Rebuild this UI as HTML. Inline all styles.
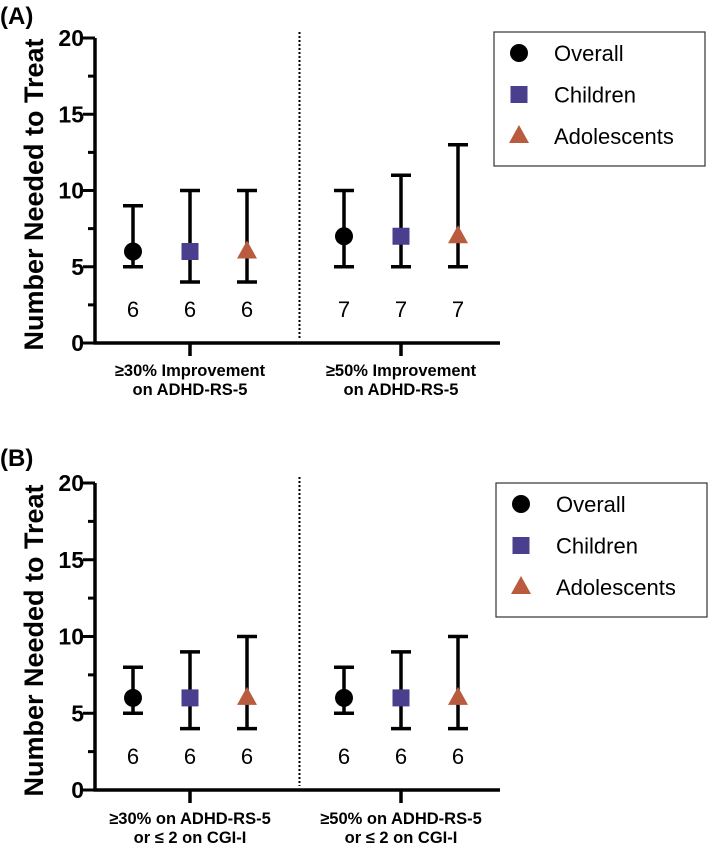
<!DOCTYPE html>
<html><head><meta charset="utf-8"><style>
html,body{margin:0;padding:0;background:#fff}
svg{display:block;font-family:"Liberation Sans",Arial,sans-serif}
</style></head><body>
<svg id="chart" width="709" height="849" viewBox="0 0 709 849"></svg>
<script>
const yTicks = [0, 5, 10, 15, 20];
const seriesNames = ["Overall", "Children", "Adolescents"];
const panelALabels = [["≥30% Improvement", "on ADHD-RS-5"], ["≥50% Improvement", "on ADHD-RS-5"]];
const panelBLabels = [["≥30% on ADHD-RS-5", "or ≤ 2 on CGI-I"], ["≥50% on ADHD-RS-5", "or ≤ 2 on CGI-I"]];
const panelAPoint = [[6, 6, 6], [7, 7, 7]];
const panelALow = [[5, 4, 4], [5, 5, 5]];
const panelAHigh = [[9, 10, 10], [10, 11, 13]];
const panelANNT = [["6", "6", "6"], ["7", "7", "7"]];
const panelBPoint = [[6, 6, 6], [6, 6, 6]];
const panelBLow = [[5, 4, 4], [5, 4, 4]];
const panelBHigh = [[8, 9, 10], [8, 9, 10]];
const panelBNNT = [["6", "6", "6"], ["6", "6", "6"]];

const colors = ["#000000", "#4a3f8e", "#b95b3e"];
const NS = "http://www.w3.org/2000/svg";
const svg = document.getElementById("chart");
function el(tag, attrs, parent, text) {
  const e = document.createElementNS(NS, tag);
  for (const k in attrs) e.setAttribute(k, attrs[k]);
  if (text !== undefined) e.textContent = text;
  (parent || svg).appendChild(e);
  return e;
}
function marker(i, cx, cy, parent) {
  let m;
  if (i === 0) m = el("circle", {cx: cx, cy: cy, r: 9, fill: colors[0]}, parent);
  else if (i === 1) m = el("rect", {x: cx - 8.5, y: cy - 8.5, width: 17, height: 17, fill: colors[1]}, parent);
  else m = el("polygon", {points: `${cx},${cy - 11} ${cx + 10},${cy + 7} ${cx - 10},${cy + 7}`, fill: colors[2]}, parent);
  return m;
}
function panel(opt) {
  const g = el("g", {});
  
  
  const x0 = 95, x1 = 500, yTop = opt.yTop, yBot = opt.yBot;
  const yS = v => yBot - (v / 20) * (yBot - yTop);
  const groupX = [190, 401];
  const off = 57;
  const xS = (gi, si) => groupX[gi] + (si - 1) * off;

  const t = el("text", {x: 0, y: opt.labelY, "font-size": 24, "font-weight": "bold"}, g, opt.label);
  
  

  const ax = el("g", {}, g);
  
  
  el("line", {x1: x0, y1: yTop, x2: x0, y2: yBot + 1.5, stroke: "#000", "stroke-width": 3.5}, ax);
  for (let v = 0; v <= 20; v += 2.5) {
    const major = v % 5 === 0;
    el("line", {x1: x0 - (major ? 12 : 7), y1: yS(v), x2: x0, y2: yS(v), stroke: "#000", "stroke-width": 3}, ax);
  }
  yTicks.forEach(v => {
    const tl = el("text", {x: x0 - 11, y: yS(v) + 8, "font-size": 23, "font-weight": "bold", "text-anchor": "end"}, ax, String(v));
    
    
  });
  const ymid = (yTop + yBot) / 2;
  const yt = el("text", {x: 0, y: 0, "font-size": 27, "font-weight": "bold", "text-anchor": "middle", transform: `translate(43,${ymid + 4}) rotate(-90)`}, g, "Number Needed to Treat");
  
  

  const xa = el("g", {}, g);
  
  
  el("line", {x1: x0 - 1.5, y1: yBot, x2: x1, y2: yBot, stroke: "#000", "stroke-width": 3.5}, xa);
  groupX.forEach((gx, gi) => {
    el("line", {x1: gx, y1: yBot, x2: gx, y2: yBot + 13, stroke: "#000", "stroke-width": 3.5}, xa);
    opt.cats[gi].forEach((line, li) => {
      const c = el("text", {x: gx, y: opt.catY + li * 19, "font-size": 16.5, "font-weight": "bold", "text-anchor": "middle"}, xa, line);
      
      
    });
  });
  const dl = el("line", {x1: 299.5, y1: yTop - 6, x2: 299.5, y2: yBot - 4, stroke: "#000", "stroke-width": 2, "stroke-dasharray": "2,2"}, g);
  
  

  for (let gi = 0; gi < 2; gi++) {
    for (let si = 0; si < 3; si++) {
      const cx = xS(gi, si);
      const s = el("g", {}, g);
      
      
      const lo = yS(opt.low[gi][si]), hi = yS(opt.high[gi][si]);
      el("line", {x1: cx, y1: hi, x2: cx, y2: lo, stroke: "#000", "stroke-width": 3.5}, s);
      el("line", {x1: cx - 10, y1: hi, x2: cx + 10, y2: hi, stroke: "#000", "stroke-width": 3.5}, s);
      el("line", {x1: cx - 10, y1: lo, x2: cx + 10, y2: lo, stroke: "#000", "stroke-width": 3.5}, s);
      marker(si, cx, yS(opt.point[gi][si]), s);
      const n = el("text", {x: cx, y: opt.nntY, "font-size": 22, "text-anchor": "middle"}, g, opt.nnt[gi][si]);
      
      
    }
  }

  const lg = el("g", {}, g);
  
  
  el("rect", {x: opt.lx, y: opt.ly, width: 211, height: 134, fill: "#fff", stroke: "#333", "stroke-width": 1.2}, lg);
  seriesNames.forEach((nm, i) => {
    const ey = opt.ly + 21 + i * 41.5;
    const e = el("g", {}, lg);
    
    
    marker(i, opt.lx + 25, ey, e);
    el("text", {x: opt.lx + 60, y: ey + 8, "font-size": 22}, e, nm);
  });
}
panel({name: "panel-a", label: "(A)", labelY: 24, yTop: 38, yBot: 343, cats: panelALabels, catY: 376, nntY: 317,
  point: panelAPoint, low: panelALow, high: panelAHigh, nnt: panelANNT, lx: 494, ly: 32});
panel({name: "panel-b", label: "(B)", labelY: 466, yTop: 483, yBot: 790, cats: panelBLabels, catY: 824, nntY: 764,
  point: panelBPoint, low: panelBLow, high: panelBHigh, nnt: panelBNNT, lx: 496, ly: 483});
</script>
</body></html>
